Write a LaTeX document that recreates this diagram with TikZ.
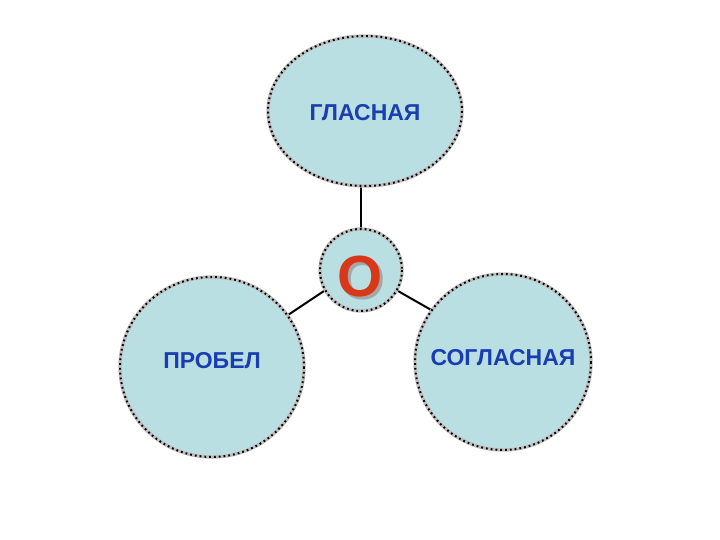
\documentclass[tikz,border=0pt]{standalone}
\usepackage{fontspec}
\setmainfont{Liberation Sans}
\definecolor{fillblue}{HTML}{BADFE3}
\definecolor{txtblue}{HTML}{1A3DB0}
\definecolor{ored}{HTML}{D8381A}
\tikzset{
  dotline/.style={draw=black, line width=2pt, dash pattern=on 1.8pt off 3pt},
  shadowline/.style={draw=gray!50, line width=3.4pt},
  conn/.style={draw=black, line width=2pt},
  lbl/.style={text=txtblue, font=\bfseries\fontsize{23}{26}\selectfont}
}
\newcommand{\shadowO}{\makebox[0pt][l]{\hspace{3pt}\raisebox{-3pt}{\textcolor{gray!70}{О}}}\textcolor{ored}{О}}
\begin{document}
\begin{tikzpicture}[x=1pt,y=-1pt]
\useasboundingbox (0,0) rectangle (720,540);
% connectors
\draw[conn] (361,186) -- (361,230);
\draw[conn] (324,291) -- (288,315);
\draw[conn] (398,291) -- (433,311);
% shapes
\foreach \cx/\cy/\rx/\ry in {365/111/97/75, 361/270/41/41, 212/367/92/90, 503/362/88/88}{
  \fill[fillblue] (\cx,\cy) ellipse [x radius=\rx, y radius=\ry];
  \draw[shadowline] (\cx,\cy) ellipse [x radius=\rx, y radius=\ry];
  \draw[dotline] (\cx,\cy) ellipse [x radius=\rx, y radius=\ry];
}
\node[lbl] (tl) at (365,113) {ГЛАСНАЯ};
\node[lbl] (ll) at (212,361) {ПРОБЕЛ};
\node[lbl] (rl) at (503,358) {СОГЛАСНАЯ};
\node[font=\bfseries\fontsize{58}{60}\selectfont] (o) at (360,278) {\shadowO};
\end{tikzpicture}
\end{document}
